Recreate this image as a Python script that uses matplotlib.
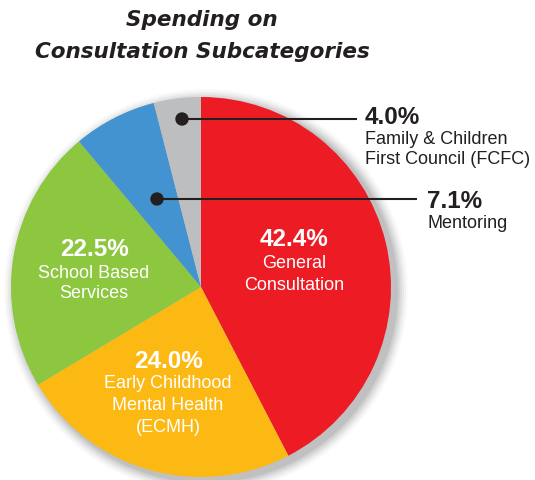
import matplotlib
matplotlib.use("Agg")
import matplotlib.pyplot as plt
from matplotlib.patches import Circle

categories = ["General\nConsultation", "Early Childhood\nMental Health\n(ECMH)",
              "School Based\nServices", "Mentoring", "Family & Children\nFirst Council (FCFC)"]
values = [42.4, 24.0, 22.5, 7.1, 4.0]
colors = ["#ED1C24", "#FDB913", "#8DC63F", "#4393D0", "#BCBEC0"]
title_lines = ["Spending on", "Consultation Subcategories"]

W, H = 535, 481
fig = plt.figure(figsize=(W / 100, H / 100), dpi=100)
ax = fig.add_axes([0, 0, 1, 1])
ax.set_xlim(0, W)
ax.set_ylim(0, H)
ax.axis("off")

def Y(py):
    return H - py

cx, cy, r = 201, Y(288), 190

# soft shadow
for i, a in enumerate([0.02, 0.03, 0.04, 0.05, 0.06, 0.07]):
    ax.add_patch(Circle((cx + 5, cy - 4), r + 12 - 2 * i, color="#000000",
                        alpha=a, lw=0, zorder=0))

ax.pie(values, colors=colors, startangle=90, counterclock=False,
       center=(cx, cy), radius=r, frame=True,
       wedgeprops=dict(linewidth=0, zorder=2))
ax.set_xlim(0, W)
ax.set_ylim(0, H)
ax.set_aspect("equal")
ax.axis("off")

font = "Liberation Sans"
dark = "#231F20"

# inside labels
inside = [(0, 294, 240, [263, 285]),
          (1, 168, 362, [384, 406, 428]),
          (2, 94, 250, [273, 294])]
for idx, x, ypct, ylines in inside:
    ax.text(x, Y(ypct), f"{values[idx]:.1f}%", color="white", fontsize=17.5,
            fontweight="bold", family=font, ha="center", va="center", zorder=5)
    for line, yy in zip(categories[idx].split("\n"), ylines):
        ax.text(x, Y(yy), line, color="white", fontsize=13, family=font,
                ha="center", va="center", zorder=5)

# outside labels with leaders
outside = [(4, (182, 120), 357, 365, 117, [140, 159]),
           (3, (157, 200), 417, 427, 202, [223])]
for idx, (dx, dy), lx, tx, ty, ylines in outside:
    ax.plot([dx, lx], [Y(dy), Y(dy)], color=dark, lw=1.5, zorder=6,
            solid_capstyle="butt")
    ax.add_patch(Circle((dx, Y(dy)), 6, color=dark, zorder=7))
    ax.text(tx, Y(ty), f"{values[idx]:.1f}%", color=dark, fontsize=17.5,
            fontweight="bold", family=font, ha="left", va="center", zorder=6)
    for line, yy in zip(categories[idx].split("\n"), ylines):
        ax.text(tx, Y(yy), line, color=dark, fontsize=13, family=font,
                ha="left", va="center", zorder=6)

# title
for line, yy in zip(title_lines, [20, 52]):
    ax.text(202, Y(yy), line, color=dark, fontsize=15.5, fontweight="bold",
            fontstyle="italic", family="DejaVu Sans", ha="center", va="center")

fig.savefig("out.png", dpi=100)
